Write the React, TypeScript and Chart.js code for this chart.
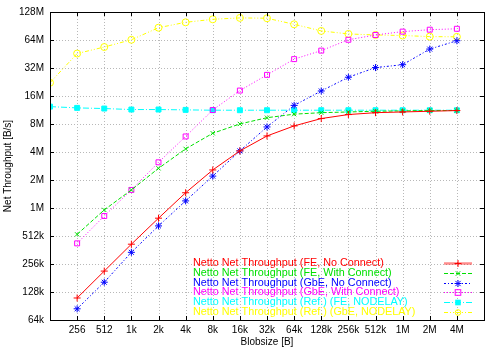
import React, { useEffect, useRef } from "react";
import { Chart, registerables } from "chart.js";

Chart.register(...registerables);

const blobSizes = [128, 256, 512, 1024, 2048, 4096, 8192, 16384, 32768, 65536, 131072, 262144, 524288, 1048576, 2097152, 4194304];
const xTickLabels = ["", "256", "512", "1k", "2k", "4k", "8k", "16k", "32k", "64k", "128k", "256k", "512k", "1M", "2M", "4M", ""];
const yTickLabels = ["64k", "128k", "256k", "512k", "1M", "2M", "4M", "8M", "16M", "32M", "64M", "128M"];

const feNoConnect = [null, 113e3, 220e3, 428e3, 815e3, 1.53e6, 2.69e6, 4.31e6, 6.24e6, 8.0e6, 9.6e6, 10.6e6, 11.1e6, 11.3e6, 11.5e6, 11.7e6];
const feWithConnect = [null, 546e3, 1.0e6, 1.64e6, 2.8e6, 4.53e6, 6.67e6, 8.4e6, 9.8e6, 10.7e6, 11.1e6, 11.3e6, 11.5e6, 11.6e6, 11.7e6, 11.7e6];
const gbeNoConnect = [null, 86.5e3, 167e3, 350e3, 673e3, 1.25e6, 2.31e6, 4.31e6, 7.8e6, 13.3e6, 19.0e6, 26.7e6, 33.9e6, 36.4e6, 53.6e6, 65.9e6];
const gbeWithConnect = [null, 437e3, 860e3, 1.64e6, 3.25e6, 6.16e6, 11.86e6, 19.2e6, 28.3e6, 41.8e6, 51.6e6, 67.5e6, 76e6, 82.6e6, 86.6e6, 88.6e6];
const refFeNodelay = [12.9e6, 12.5e6, 12.3e6, 12.0e6, 12.0e6, 11.9e6, 11.8e6, 11.8e6, 11.8e6, 11.8e6, 11.8e6, 11.8e6, 11.8e6, 11.8e6, 11.8e6, 11.8e6];
const refGbeNodelay = [23.3e6, 48e6, 56.4e6, 67.5e6, 91e6, 104e6, 112e6, 116e6, 115e6, 99e6, 84e6, 78e6, 76e6, 75e6, 73e6, 72.6e6];

const seriesNames = [
  "Netto Net Throughput (FE, No Connect)",
  "Netto Net Throughput (FE, With Connect)",
  "Netto Net Throughput (GbE, No Connect)",
  "Netto Net Throughput (GbE, With Connect)",
  "Netto Net Throughput (Ref.) (FE, NODELAY)",
  "Netto Net Throughput (Ref.) (GbE, NODELAY)",
];
const seriesValues = [feNoConnect, feWithConnect, gbeNoConnect, gbeWithConnect, refFeNodelay, refGbeNodelay];
const seriesColors = ["#ff0000", "#00e000", "#0000ff", "#ff00ff", "#00ffff", "#ffff00"];
const seriesDash = [[], [4, 2], [2, 2, 1, 2], [1, 2], [6, 2, 1, 2], [4, 2, 1, 2, 1, 2]];
const seriesPoint = ["cross", "crossRot", "star", "rect", "rect", "circle"];
const seriesFill = [false, false, false, false, true, false];
const seriesRadius = [3.5, 3, 3.5, 3.5, 3.5, 3.5];

const FONT = "'Liberation Sans', Arial, sans-serif";

function drawMarker(ctx: CanvasRenderingContext2D, style: string, x: number, y: number, r: number, color: string, filled: boolean) {
  ctx.save();
  ctx.strokeStyle = color;
  ctx.fillStyle = color;
  ctx.lineWidth = 1;
  ctx.setLineDash([]);
  ctx.beginPath();
  if (style === "cross") {
    ctx.moveTo(x - r, y); ctx.lineTo(x + r, y);
    ctx.moveTo(x, y - r); ctx.lineTo(x, y + r);
    ctx.stroke();
  } else if (style === "crossRot") {
    const d = r * 0.75;
    ctx.moveTo(x - d, y - d); ctx.lineTo(x + d, y + d);
    ctx.moveTo(x - d, y + d); ctx.lineTo(x + d, y - d);
    ctx.stroke();
  } else if (style === "star") {
    const d = r * 0.75;
    ctx.moveTo(x - r, y); ctx.lineTo(x + r, y);
    ctx.moveTo(x, y - r); ctx.lineTo(x, y + r);
    ctx.moveTo(x - d, y - d); ctx.lineTo(x + d, y + d);
    ctx.moveTo(x - d, y + d); ctx.lineTo(x + d, y - d);
    ctx.stroke();
  } else if (style === "rect") {
    const d = r * 0.8;
    if (filled) ctx.fillRect(x - d, y - d, 2 * d, 2 * d);
    else ctx.strokeRect(x - d, y - d, 2 * d, 2 * d);
  } else {
    ctx.arc(x, y, r * 0.8, 0, Math.PI * 2);
    ctx.stroke();
  }
  ctx.restore();
}

const gridPlugin = {
  id: "gnuplotGrid",
  beforeDatasetsDraw(chart: any) {
    const ctx: CanvasRenderingContext2D = chart.ctx;
    const { left, right, top, bottom } = chart.chartArea;
    const xs = chart.scales.x;
    const ys = chart.scales.y;
    ctx.save();
    ctx.strokeStyle = "#b8b8b8";
    ctx.lineWidth = 1;
    ctx.setLineDash([1, 2]);
    ctx.beginPath();
    for (let v = 8; v <= 22; v++) {
      const px = Math.round(xs.getPixelForValue(v)) + 0.5;
      ctx.moveTo(px, bottom); ctx.lineTo(px, top);
    }
    for (let v = 17; v <= 26; v++) {
      const py = Math.round(ys.getPixelForValue(v)) + 0.5;
      ctx.moveTo(left, py); ctx.lineTo(right, py);
    }
    ctx.stroke();
    ctx.restore();
  },
};

const framePlugin = {
  id: "gnuplotFrame",
  afterDatasetsDraw(chart: any) {
    const ctx: CanvasRenderingContext2D = chart.ctx;
    const { left, right, top, bottom } = chart.chartArea;
    const xs = chart.scales.x;
    const ys = chart.scales.y;
    ctx.save();
    ctx.strokeStyle = "#000";
    ctx.lineWidth = 1;
    ctx.setLineDash([]);
    ctx.beginPath();
    for (let v = 8; v <= 22; v++) {
      const px = Math.round(xs.getPixelForValue(v)) + 0.5;
      ctx.moveTo(px, bottom); ctx.lineTo(px, bottom - 4);
      ctx.moveTo(px, top); ctx.lineTo(px, top + 4);
    }
    for (let v = 17; v <= 26; v++) {
      const py = Math.round(ys.getPixelForValue(v)) + 0.5;
      ctx.moveTo(left, py); ctx.lineTo(left + 4, py);
      ctx.moveTo(right, py); ctx.lineTo(right - 4, py);
    }
    ctx.stroke();
    ctx.strokeRect(Math.round(left) + 0.5, Math.round(top) + 0.5, Math.round(right - left), Math.round(bottom - top));

    // legend
    ctx.font = "10.8px " + FONT;
    ctx.textBaseline = "middle";
    ctx.textAlign = "left";
    const textX = 193;
    const sampleL = 444;
    const sampleR = 472;
    for (let i = 0; i < seriesNames.length; i++) {
      const y = 263 + i * 9.8;
      ctx.fillStyle = seriesColors[i];
      ctx.fillText(seriesNames[i], textX, y);
      ctx.save();
      ctx.strokeStyle = seriesColors[i];
      ctx.lineWidth = i === 0 ? 2.5 : 1;
      if (i === 0) ctx.globalAlpha = 0.45;
      ctx.setLineDash(seriesDash[i]);
      ctx.beginPath();
      ctx.moveTo(sampleL, Math.round(y) + 0.5);
      ctx.lineTo(sampleR, Math.round(y) + 0.5);
      ctx.stroke();
      ctx.restore();
      drawMarker(ctx, seriesPoint[i], (sampleL + sampleR) / 2, Math.round(y) + 0.5, seriesRadius[i], seriesColors[i], seriesFill[i]);
    }
    ctx.restore();
  },
};

export default function App() {
  const ref = useRef<HTMLCanvasElement | null>(null);
  useEffect(() => {
    document.body.style.margin = "0";
    const canvas = ref.current;
    if (!canvas) return;
    const datasets = seriesValues.map((vals, i) => ({
      label: seriesNames[i],
      data: vals
        .map((v, j) => (v == null ? null : { x: Math.log2(blobSizes[j]), y: Math.log2(v) }))
        .filter((p) => p !== null) as { x: number; y: number }[],
      borderColor: seriesColors[i],
      backgroundColor: seriesFill[i] ? seriesColors[i] : "rgba(0,0,0,0)",
      pointBorderColor: seriesColors[i],
      pointBackgroundColor: seriesFill[i] ? seriesColors[i] : "rgba(0,0,0,0)",
      borderWidth: 1,
      borderDash: seriesDash[i],
      pointStyle: seriesPoint[i] as any,
      pointRadius: seriesRadius[i],
      pointBorderWidth: 1,
      tension: 0,
      fill: false,
    }));
    const chart = new Chart(canvas, {
      type: "line",
      data: { datasets },
      plugins: [gridPlugin, framePlugin],
      options: {
        responsive: false,
        animation: false,
        layout: { padding: { left: 2, top: 12, right: 16, bottom: 2 } },
        plugins: { legend: { display: false }, tooltip: { enabled: false } },
        scales: {
          x: {
            type: "linear",
            min: 7,
            max: 23,
            afterFit: (s: any) => { s.height = 28; },
            ticks: {
              stepSize: 1,
              autoSkip: false,
              maxRotation: 0,
              padding: 4,
              color: "#000",
              font: { family: FONT, size: 10 },
              callback: (v: any) => xTickLabels[Math.round(Number(v)) - 7] ?? "",
            },
            grid: { display: false, drawTicks: false },
            border: { display: false },
            title: { display: true, text: "Blobsize [B]", color: "#000", font: { family: FONT, size: 10 }, padding: 0 },
          },
          y: {
            type: "linear",
            min: 16,
            max: 27,
            afterFit: (s: any) => { s.width = 48; },
            ticks: {
              stepSize: 1,
              autoSkip: false,
              padding: 6,
              color: "#000",
              font: { family: FONT, size: 10 },
              callback: (v: any) => yTickLabels[Math.round(Number(v)) - 16] ?? "",
            },
            grid: { display: false, drawTicks: false },
            border: { display: false },
            title: { display: true, text: "Net Throughput [B/s]", color: "#000", font: { family: FONT, size: 10 }, padding: 0 },
          },
        },
      },
    });
    return () => chart.destroy();
  }, []);
  return (
    <div style={{ width: 500, height: 350, background: "#fff" }}>
      <canvas ref={ref} width={500} height={350} style={{ display: "block" }} />
    </div>
  );
}
